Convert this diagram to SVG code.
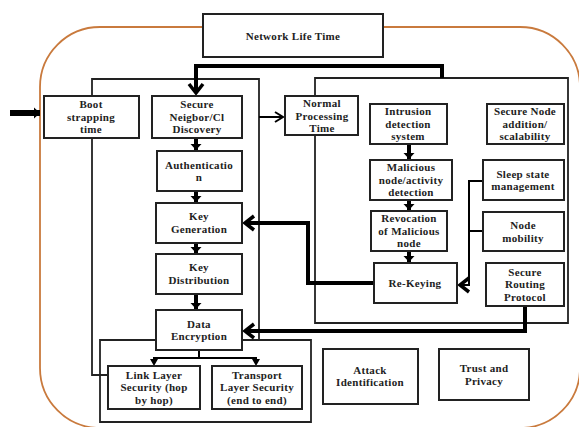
<svg xmlns="http://www.w3.org/2000/svg" width="579" height="427" viewBox="0 0 579 427">
<style>
.bx{fill:#fff;stroke:#222;stroke-width:2}
.fr{fill:none;stroke:#222;stroke-width:1.8}
.tk{fill:none;stroke:#000;stroke-width:4}
.tn{fill:none;stroke:#000;stroke-width:2}
text{font-family:"Liberation Serif","Times New Roman",serif;font-weight:bold;font-size:11px;letter-spacing:0.3px;fill:#222;text-anchor:middle}
</style>
<defs>
<marker id="chev" markerUnits="userSpaceOnUse" markerWidth="20" markerHeight="20" refX="0" refY="0" viewBox="-12 -10 14 20" orient="auto">
<path d="M-9,-7 L0,0 L-9,7" fill="none" stroke="#000" stroke-width="3.5"/>
</marker>
<marker id="chevs" markerUnits="userSpaceOnUse" markerWidth="16" markerHeight="16" refX="0" refY="0" viewBox="-10 -8 12 16" orient="auto">
<path d="M-8,-5 L0,0 L-8,5" fill="none" stroke="#000" stroke-width="2"/>
</marker>
<marker id="tri" markerUnits="userSpaceOnUse" markerWidth="16" markerHeight="16" refX="0" refY="0" viewBox="-8 -8 9 16" orient="auto">
<path d="M-6,-5.5 L0,0 L-6,5.5 Z" fill="#000"/>
</marker>
</defs>
<rect x="40" y="27" width="540" height="401" rx="60" fill="none" stroke="#c97a3d" stroke-width="1.8"/>
<g id="frames">
<polyline class="fr" points="92,96 92,79 259,79 259,340"/>
<polyline class="fr" points="92,138 92,375 108,375"/>
<polyline class="fr" points="315,96 315,78 568,78 568,323 315,323 315,135"/>
<polyline class="fr" points="156,340 100,340 100,422 311,422 311,340 243,340"/>
</g>
<g id="connectors">
<line x1="10" y1="113" x2="40" y2="113" stroke="#000" stroke-width="6" marker-end="url(#tri)"/>
<polyline class="tk" points="442,78 442,66 196,66 196,93" marker-end="url(#chev)"/>
<line class="tn" x1="259" y1="117" x2="283" y2="117" marker-end="url(#chevs)"/>
<line class="tk" x1="196" y1="138" x2="196" y2="150" marker-end="url(#tri)"/>
<line class="tk" x1="196" y1="191" x2="196" y2="202" marker-end="url(#tri)"/>
<line class="tk" x1="196" y1="243" x2="196" y2="253" marker-end="url(#tri)"/>
<line class="tk" x1="196" y1="294" x2="196" y2="309" marker-end="url(#tri)"/>
<line class="tk" x1="409" y1="144" x2="409" y2="159" marker-end="url(#tri)"/>
<line class="tk" x1="409" y1="200" x2="409" y2="210" marker-end="url(#tri)"/>
<line class="tk" x1="409" y1="251" x2="409" y2="262" marker-end="url(#tri)"/>
<polyline class="tk" points="374,283 308,283 308,223 245,223" marker-end="url(#chev)"/>
<polyline class="tk" points="525,306 525,331 245,331" marker-end="url(#chev)"/>
<polyline class="tn" points="483,181 469,181 469,285 460,285" marker-end="url(#chev)"/>
<line class="tn" x1="483" y1="231" x2="469" y2="231"/>
<polyline class="tn" points="199,350 199,358"/>
<polyline class="tn" points="154,364 154,358 256,358 256,364"/>
<path d="M150,359 L158,359 L154,366 Z M252,359 L260,359 L256,366 Z" fill="#000"/>
</g>
<g id="network-life-time"><rect class="bx" x="203" y="14" width="180" height="43"/><text x="293" y="40">Network Life Time</text></g>
<g id="boot"><rect class="bx" x="44" y="96" width="95" height="42"/><text x="91" y="108.3">Boot</text><text x="91" y="120.8">strapping</text><text x="91" y="133.3">time</text></g>
<g id="neighbor"><rect class="bx" x="152" y="96" width="90" height="42"/><text x="197" y="108.3">Secure</text><text x="197" y="120.8">Neigbor/Cl</text><text x="197" y="133.3">Discovery</text></g>
<g id="auth"><rect class="bx" x="157" y="151" width="85" height="40"/><text x="199" y="168.5">Authenticatio</text><text x="199" y="181">n</text></g>
<g id="keygen"><rect class="bx" x="156" y="203" width="86" height="40"/><text x="199" y="220">Key</text><text x="199" y="232.5">Generation</text></g>
<g id="keydist"><rect class="bx" x="156" y="254" width="86" height="40"/><text x="199" y="271">Key</text><text x="199" y="283.5">Distribution</text></g>
<g id="dataenc"><rect class="bx" x="156" y="310" width="86" height="40"/><text x="199" y="327.5">Data</text><text x="199" y="340">Encryption</text></g>
<g id="link"><rect class="bx" x="108" y="366" width="92" height="43"/><text x="154" y="378.8">Link Layer</text><text x="154" y="391.3">Security (hop</text><text x="154" y="403.8">by hop)</text></g>
<g id="transport"><rect class="bx" x="212" y="366" width="90" height="43"/><text x="257" y="378.8">Transport</text><text x="257" y="391.3">Layer Security</text><text x="257" y="403.8">(end to end)</text></g>
<g id="attack"><rect class="bx" x="323" y="349" width="95" height="55"/><text x="370" y="373.5">Attack</text><text x="370" y="386">Identification</text></g>
<g id="trust"><rect class="bx" x="439" y="349" width="90" height="51"/><text x="484" y="372">Trust and</text><text x="484" y="384.5">Privacy</text></g>
<g id="normal"><rect class="bx" x="285" y="96" width="73" height="39"/><text x="322" y="107">Normal</text><text x="322" y="119.5">Processing</text><text x="322" y="132">Time</text></g>
<g id="ids"><rect class="bx" x="370" y="104" width="77" height="40"/><text x="408" y="115.3">Intrusion</text><text x="408" y="127.8">detection</text><text x="408" y="140.3">system</text></g>
<g id="malicious"><rect class="bx" x="370" y="160" width="82" height="40"/><text x="411" y="171.3">Malicious</text><text x="411" y="183.8">node/activity</text><text x="411" y="196.3">detection</text></g>
<g id="revocation"><rect class="bx" x="371" y="211" width="76" height="40"/><text x="409" y="222.3">Revocation</text><text x="409" y="234.8">of Malicious</text><text x="409" y="247.3">node</text></g>
<g id="rekeying"><rect class="bx" x="374" y="263" width="83" height="40"/><text x="415" y="287">Re-Keying</text></g>
<g id="secure-node"><rect class="bx" x="487" y="104" width="77" height="40"/><text x="525" y="115.3">Secure Node</text><text x="525" y="127.8">addition/</text><text x="525" y="140.3">scalability</text></g>
<g id="sleep"><rect class="bx" x="483" y="160" width="81" height="40"/><text x="523" y="177.5">Sleep state</text><text x="523" y="190">management</text></g>
<g id="mobility"><rect class="bx" x="483" y="212" width="81" height="39"/><text x="523" y="229">Node</text><text x="523" y="241.5">mobility</text></g>
<g id="routing"><rect class="bx" x="486" y="263" width="78" height="43"/><text x="525" y="275.8">Secure</text><text x="525" y="288.3">Routing</text><text x="525" y="300.8">Protocol</text></g>
</svg>
